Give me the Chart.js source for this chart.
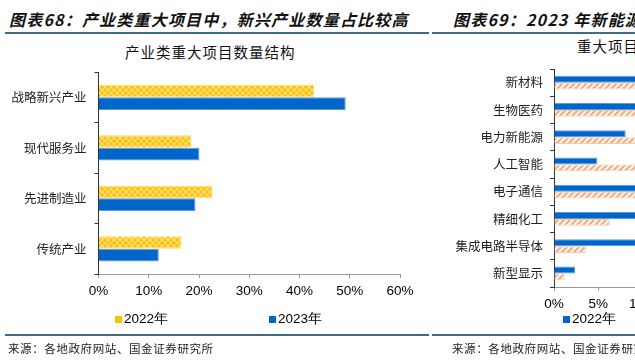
<!DOCTYPE html>
<html><head><meta charset="utf-8">
<script src="https://cdn.jsdelivr.net/npm/chart.js@4/dist/chart.umd.min.js"></script>
<style>
html,body{margin:0;padding:0;width:635px;height:364px;overflow:hidden;background:#fff;position:relative;}
.t{position:absolute;white-space:nowrap;color:#111;font-family:"Noto Sans CJK SC";}
.title{font-size:16px;font-weight:700;font-style:italic;letter-spacing:1.2px;top:8px;line-height:22px;}
.sub{font-size:14.5px;letter-spacing:1px;line-height:18px;}
.rule{position:absolute;height:2px;background:#3e6b88;}
.src{font-size:11.5px;letter-spacing:0.6px;top:340px;line-height:16px;color:#222;}
.leg{position:absolute;font-family:"Liberation Sans";font-size:13.5px;line-height:16px;top:311px;white-space:nowrap;color:#000;}
.box{display:inline-block;width:7px;height:7px;vertical-align:0px;margin-right:2px;}
canvas{position:absolute;top:0;}
</style></head><body>
<div class="t title" style="left:9px;">图表68：产业类重大项目中，新兴产业数量占比较高</div>
<div class="rule" style="left:5px;width:424px;top:32px;"></div>
<div class="t sub" style="left:125px;top:43px;">产业类重大项目数量结构</div>

<div class="t title" style="left:453px;">图表69：2023 年新能源、新材料项目占比较高</div>
<div class="rule" style="left:432px;width:210px;top:32px;"></div>
<div class="t sub" style="left:577px;top:37px;">重大项目行业分布</div>

<canvas id="c1" width="430" height="364" style="left:0;"></canvas>
<canvas id="c2" width="500" height="364" style="left:430px;"></canvas>

<div class="leg" style="left:115px;"><span class="box" style="background:#FFC000;border:0 solid #fff;"></span>2022年</div>
<div class="leg" style="left:269px;"><span class="box" style="background:#0066CC;"></span>2023年</div>
<div class="leg" style="left:563px;"><span class="box" style="background:#0066CC;"></span>2022年</div>

<div class="rule" style="left:5px;width:424px;top:334px;"></div>
<div class="rule" style="left:432px;width:210px;top:334px;"></div>
<div class="t src" style="left:8px;">来源：各地政府网站、国金证券研究所</div>
<div class="t src" style="left:452px;">来源：各地政府网站、国金证券研究所</div>

<script>
// ---- Left chart data ----
const industries = ["战略新兴产业", "现代服务业", "先进制造业", "传统产业"];
const share2022 = [42.9, 18.4, 22.7, 16.5];
const share2023 = [49.2, 20.1, 19.3, 12.0];
const leftTicks = [0, 10, 20, 30, 40, 50, 60];

// ---- Right chart data ----
const sectors = ["新材料", "生物医药", "电力新能源", "人工智能", "电子通信", "精细化工", "集成电路半导体", "新型显示"];
const sector2023 = [14.5, 13.0, 8.1, 4.9, 12.0, 10.5, 11.0, 2.4];
const sector2022 = [13.0, 12.5, 11.0, 10.0, 11.5, 6.3, 3.6, 1.2];

Chart.defaults.devicePixelRatio = 1;
Chart.defaults.animation = false;

function yellowPattern(){
  const c = document.createElement('canvas'); c.width = 6; c.height = 6;
  const g = c.getContext('2d');
  g.fillStyle = '#FFC000'; g.fillRect(0,0,6,6);
  g.strokeStyle = '#FFE38C'; g.lineWidth = 1.1;
  g.beginPath(); g.moveTo(0,0); g.lineTo(6,6); g.moveTo(6,0); g.lineTo(0,6); g.stroke();
  return g.createPattern(c,'repeat');
}
function orangePattern(){
  const c = document.createElement('canvas'); c.width = 6; c.height = 6;
  const g = c.getContext('2d');
  g.fillStyle = '#ffffff'; g.fillRect(0,0,6,6);
  g.strokeStyle = '#F4B183'; g.lineWidth = 2.4;
  g.beginPath();
  g.moveTo(-3,3); g.lineTo(3,-3);
  g.moveTo(0,6); g.lineTo(6,0);
  g.moveTo(3,9); g.lineTo(9,3);
  g.stroke();
  return g.createPattern(c,'repeat');
}

const catFont = {family: '"Noto Sans CJK SC"', size: 12.5};
const numFont = {family: '"Liberation Sans"', size: 13.5};

new Chart(document.getElementById('c1'), {
  type: 'bar',
  data: {
    labels: industries,
    datasets: [
      {label: '2022年', data: share2022, backgroundColor: yellowPattern(), borderColor: '#FFD966', borderWidth: 1, borderSkipped: 'left', categoryPercentage: 0.5, barPercentage: 1.0},
      {label: '2023年', data: share2023, backgroundColor: '#0066CC', borderColor: '#5B9BD5', borderWidth: 1, borderSkipped: 'left', categoryPercentage: 0.5, barPercentage: 1.0}
    ]
  },
  options: {
    responsive: false,
    indexAxis: 'y',
    layout: {padding: {left: 10, right: 30, top: 72, bottom: 60}},
    plugins: {legend: {display: false}, tooltip: {enabled: false}},
    scales: {
      x: {
        min: leftTicks[0], max: leftTicks[leftTicks.length-1],
        afterBuildTicks: s => { s.ticks = leftTicks.map(v => ({value: v})); },
        afterFit: s => { s.height = 30; },
        grid: {drawOnChartArea: false, drawTicks: true, tickLength: 4, color: '#999'},
        border: {color: '#999', width: 1},
        ticks: {font: numFont, color: '#000', padding: 5, callback: v => v + '%'}
      },
      y: {
        afterFit: s => { s.width = 88.5; },
        grid: {drawOnChartArea: false, drawTicks: true, tickLength: 4, color: '#333', offset: true},
        border: {color: '#333', width: 1},
        ticks: {font: catFont, color: '#222', padding: 8}
      }
    }
  }
});

new Chart(document.getElementById('c2'), {
  type: 'bar',
  data: {
    labels: sectors,
    datasets: [
      {label: '2023年', data: sector2023, backgroundColor: '#0066CC', borderColor: '#5B9BD5', borderWidth: 1, borderSkipped: 'left', categoryPercentage: 0.5, barPercentage: 1.0},
      {label: '2022年', data: sector2022, backgroundColor: orangePattern(), borderColor: '#F8CBAD', borderWidth: 1, borderSkipped: 'left', categoryPercentage: 0.5, barPercentage: 1.0}
    ]
  },
  options: {
    responsive: false,
    indexAxis: 'y',
    layout: {padding: {left: 0, right: 199, top: 69, bottom: 52}},
    plugins: {legend: {display: false}, tooltip: {enabled: false}},
    scales: {
      x: {
        min: 0, max: 20,
        ticks: {stepSize: 5, font: numFont, color: '#000', padding: 5, callback: v => v + '%'},
        afterFit: s => { s.height = 25; },
        grid: {drawOnChartArea: false, drawTicks: true, tickLength: 4, color: '#999'},
        border: {color: '#999', width: 1}
      },
      y: {
        afterFit: s => { s.width = 124; },
        grid: {drawOnChartArea: false, drawTicks: true, tickLength: 4, color: '#333', offset: true},
        border: {color: '#333', width: 1},
        ticks: {font: catFont, color: '#222', padding: 7}
      }
    }
  }
});
</script>
</body></html>
